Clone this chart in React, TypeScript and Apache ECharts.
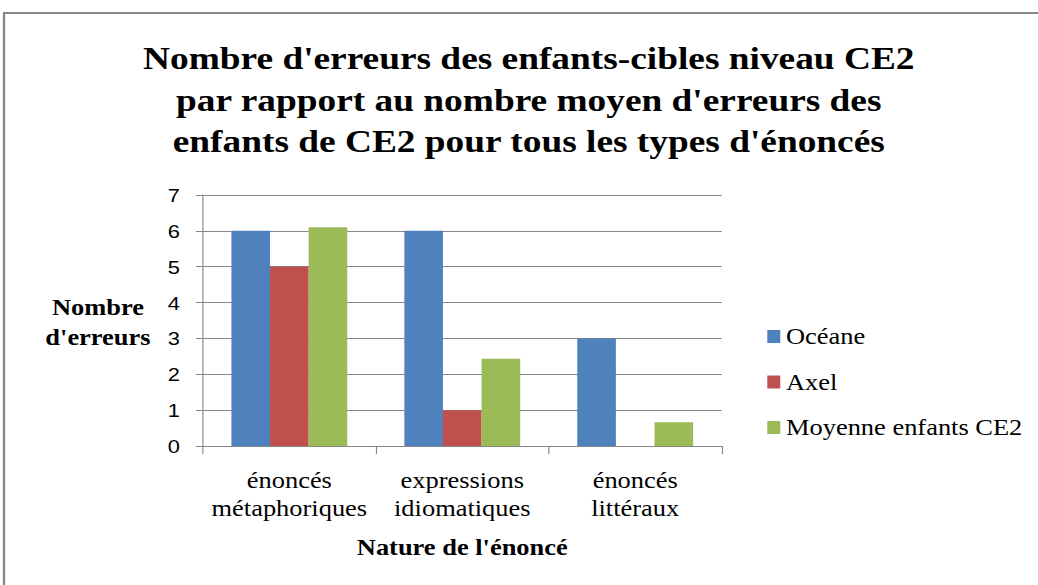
import React, { useEffect, useRef } from "react";
import * as echarts from "echarts";

const categories = ["énoncés\nmétaphoriques", "expressions\nidiomatiques", "énoncés\nlittéraux"];
const oceane = [6, 6, 3];
const axel = [5, 1, 0];
const moyenne = [6.1, 2.43, 0.66];
const seriesNames = ["Océane", "Axel", "Moyenne enfants CE2"];
const colors = ["#4F81BD", "#C0504D", "#9BBB59"];
const titleText = "Nombre d'erreurs des enfants-cibles niveau CE2\npar rapport au nombre moyen d'erreurs des\nenfants de CE2 pour tous les types d'énoncés";

// The reference is horizontally stretched; render narrower and stretch with CSS.
const W = 903;
const S = 1038 / W;

export default function App() {
  const ref = useRef<HTMLDivElement>(null);
  useEffect(() => {
    const chart = echarts.init(ref.current!, null, { renderer: "svg" });
    const serif = "Liberation Serif";
    const sans = "Liberation Sans";
    chart.setOption({
      animation: false,
      backgroundColor: "#fff",
      title: {
        text: titleText,
        left: 455,
        top: 33,
        textAlign: "center",
        textStyle: { fontFamily: serif, fontWeight: "bold", fontSize: 32.5, lineHeight: 41.5, color: "#000" },
      },
      graphic: [
        {
          type: "polyline",
          shape: { points: [[3.5, 590], [3.5, 13], [W + 5, 13]] },
          style: { stroke: "#878787", lineWidth: 2, fill: "none" },
        },
        {
          type: "text",
          x: 85.2,
          y: 292,
          style: {
            text: "Nombre\nd'erreurs",
            fontFamily: serif,
            fontWeight: "bold",
            fontSize: 23,
            fill: "#000",
            align: "center",
            verticalAlign: "top",
            lineHeight: 30,
          },
        },
      ],
      legend: {
        orient: "vertical",
        left: 662.5,
        top: 320,
        itemWidth: 11.3,
        itemHeight: 13,
        itemGap: 22.5,
        icon: "rect",
        textStyle: { fontFamily: serif, fontSize: 23, lineHeight: 23, color: "#000" },
        data: seriesNames,
      },
      grid: { left: 176.5, top: 195, width: 451.3, height: 251, containLabel: false },
      xAxis: {
        type: "category",
        data: categories,
        name: "Nature de l'énoncé",
        nameLocation: "middle",
        nameGap: 90,
        nameTextStyle: { fontFamily: serif, fontWeight: "bold", fontSize: 23, color: "#000" },
        axisLine: { lineStyle: { color: "#868686", width: 1 } },
        axisTick: { show: true, length: 8, lineStyle: { color: "#868686" } },
        axisLabel: { interval: 0, fontFamily: serif, fontSize: 23, color: "#000", lineHeight: 28, margin: 20 },
      },
      yAxis: {
        type: "value",
        min: 0,
        max: 7,
        interval: 1,
        axisLine: { show: true, lineStyle: { color: "#868686", width: 1 } },
        axisTick: { show: true, length: 6, lineStyle: { color: "#868686" } },
        splitLine: { lineStyle: { color: "#868686", width: 1 } },
        axisLabel: { fontFamily: sans, fontSize: 19, color: "#000", margin: 20 },
      },
      series: [oceane, axel, moyenne].map((d, i) => ({
        name: seriesNames[i],
        type: "bar",
        data: d,
        itemStyle: { color: colors[i] },
        barGap: "0%",
        barCategoryGap: "33%",
      })),
    });
    return () => chart.dispose();
  }, []);
  return (
    <div
      ref={ref}
      style={{
        position: "absolute",
        left: 0,
        top: 0,
        width: W,
        height: 585,
        transform: `scaleX(${S})`,
        transformOrigin: "0 0",
      }}
    />
  );
}
